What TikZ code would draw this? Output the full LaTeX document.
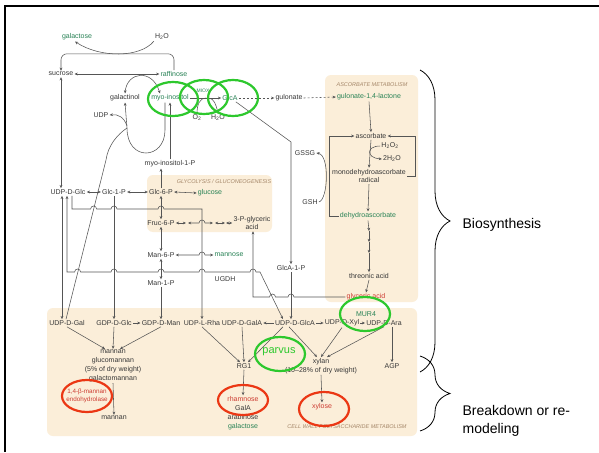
\documentclass[tikz,border=0pt]{standalone}
\usepackage{fontspec}
\setmainfont{Liberation Sans}
\usetikzlibrary{arrows.meta, decorations.pathreplacing, positioning}
\definecolor{boxfill}{RGB}{251,238,217}
\definecolor{metgray}{RGB}{55,55,55}
\definecolor{linegray}{RGB}{85,85,85}
\definecolor{metgreen}{RGB}{40,130,85}
\definecolor{metred}{RGB}{205,60,50}
\definecolor{hdrbrown}{RGB}{165,135,105}
\definecolor{ringgreen}{RGB}{45,200,45}
\definecolor{ringred}{RGB}{235,55,20}

\tikzset{
  met/.style={font=\fontsize{7}{8.8}\selectfont, text=metgray, inner sep=1pt, align=center},
  grn/.style={met, text=metgreen},
  rdm/.style={met, text=metred},
  hdr/.style={font=\fontsize{5.5}{6}\selectfont\itshape, text=hdrbrown},
  wallbox/.style={fill=boxfill, rounded corners=6pt},
  ringg/.style={draw=ringgreen, line width=2.2pt},
  ringr/.style={draw=ringred, line width=2.2pt},
  bigbrace/.style={draw=black, decorate, decoration={brace, amplitude=30pt}, line width=0.8pt},
  sidelabel/.style={text=black, font=\fontsize{14}{18}\selectfont, anchor=west, align=left},
}

\begin{document}
\begin{tikzpicture}[x=1pt, y=-1pt, color=linegray, line width=0.55pt,
    >={Stealth[length=3.2pt,width=2.8pt]}]
  \useasboundingbox (0,0) rectangle (599,452);
  \fill[white] (0,0) rectangle (599,452);

  % shaded areas
  \fill[wallbox] (325,75) rectangle (418,302);
  \fill[wallbox] (147,175) rectangle (272,232);
  \fill[wallbox] (47,308) rectangle (417,436);
  \node[hdr] (aschdr) at (372,85) {ASCORBATE METABOLISM};
  \node[hdr] (glyhdr) at (224,182) {GLYCOLYSIS / GLUCONEOGENESIS};
  \node[hdr] (cwhdr) at (347,427) {CELL WALL POLYSACCHARIDE METABOLISM};

  % top part
  \node[grn] (galactose) at (77,37) {galactose};
  \node[met] (hwtop) at (162,37) {H\textsubscript{2}O};
  \node[met] (sucrose) at (61,74) {sucrose};
  \node[grn] (raffinose) at (174,74) {raffinose};
  \node[met] (galactinol) at (125,98) {galactinol};
  \node[grn] (myoino) at (170,98) {myo-inositol};
  \node[grn, font=\fontsize{5}{6}\selectfont] (miox) at (203,91) {MIOX};
  \node[grn] (glca) at (230,98) {GlcA};
  \node[met] (otwo) at (197,118) {O\textsubscript{2}};
  \node[met] (hwmid) at (218,118) {H\textsubscript{2}O};
  \node[met] (gulonate) at (289,98) {gulonate};
  \node[met] (udp) at (101,115) {UDP};
  \node[met] (myoinop) at (170,164) {myo-inositol-1-P};
  \node[met] (gssg) at (305,153) {GSSG};
  \node[met] (gsh) at (310,202) {GSH};

  % ascorbate
  \node[grn] (lactone) at (369,97) {gulonate-1,4-lactone};
  \node[met] (asc) at (371,136) {ascorbate};
  \node[met] (htwo) at (390,146) {H\textsubscript{2}O\textsubscript{2}};
  \node[met] (twoh) at (392,159) {2H\textsubscript{2}O};
  \node[met] (mda) at (369,176) {monodehydroascorbate\\radical};
  \node[grn] (dha) at (368,216) {dehydroascorbate};
  \node[met] (threo) at (369,276) {threonic acid};
  \node[rdm] (glyc) at (366,297) {glyceric acid};

  % glycolysis
  \node[met] (udpglc) at (68,192) {UDP-D-Glc};
  \node[met] (glconep) at (114,192) {Glc-1-P};
  \node[met] (glcsixp) at (161,192) {Glc-6-P};
  \node[grn] (glucose) at (210,193) {glucose};
  \node[met] (fruc) at (161,223) {Fruc-6-P};
  \node[met] (pga) at (252,223) {3-P-glyceric\\acid};
  \node[met] (mansixp) at (161,255) {Man-6-P};
  \node[grn] (mannose) at (229,255) {mannose};
  \node[met] (manonep) at (161,283) {Man-1-P};
  \node[met] (ugdh) at (225,279) {UGDH};
  \node[met] (glcaonep) at (291,268) {GlcA-1-P};

  % cell wall
  \node[met] (udpgal) at (67,323) {UDP-D-Gal};
  \node[met] (gdpglc) at (114,323) {GDP-D-Glc};
  \node[met] (gdpman) at (161,323) {GDP-D-Man};
  \node[met] (udprha) at (202,323) {UDP-L-Rha};
  \node[met] (udpgala) at (242,323) {UDP-D-GalA};
  \node[met] (udpglca) at (295,323) {UDP-D-GlcA};
  \node[met] (udpxyl) at (342,323) {UDP-D-Xyl};
  \node[met] (udpara) at (384,323) {UDP-D-Ara};
  \node[grn] (mur) at (366,314) {MUR4};
  \node[met] (mannan) at (113,366) {mannan\\glucomannan\\(5\% of dry weight)\\galactomannan};
  \node[rdm, font=\fontsize{6.3}{8}\selectfont] (endo) at (87,396) {1,4-β-mannan\\endohydrolase};
  \node[met] (mannanb) at (114,418) {mannan};
  \node[met] (rgone) at (244,366) {RG1};
  \node[met] (sugars) at (243,413) {\textcolor{metred}{rhamnose}\\GalA\\arabinose\\\textcolor{metgreen}{galactose}};
  \node[met] (xylan) at (321,366) {xylan\\(10--28\% of dry weight)};
  \node[rdm] (xylose) at (322,407) {xylose};
  \node[met] (agp) at (392,366) {AGP};

  % reactions, top
  \draw[->] (hwtop.south west) .. controls (140,58) and (100,58) .. ([xshift=-2pt]galactose.south);
  \draw[->, rounded corners=6pt] (raffinose.north) |- ([yshift=17pt]sucrose.north) -- (sucrose.north);
  \draw[<->] (sucrose.east) -- (raffinose.west);
  \draw[<->] (galactinol.north) .. controls (127,72) and (152,68) .. ([xshift=-10pt]myoino.north);
  \draw[->] ([xshift=-5pt]myoino.south) -- (165,130) .. controls (165,160) and (127,162) .. (127,128) -- (galactinol.south);
  \draw (127,128) .. controls (118,134) and (108,145) .. (106,160) -- ([xshift=-1pt]udpgal.north);
  \draw[->] (127,126) .. controls (124,117) and (118,114) .. (udp.east);
  \draw[->] (myoinop.north) -- (myoino.south);
  \draw[->] (myoino.east) -- (glca.west);
  \draw (otwo.north) .. controls (197,104) and (200,98) .. (206,98);
  \draw[->] (209,98) .. controls (214,99) and (216,104) .. (hwmid.north);
  \draw[->, dash pattern=on 2pt off 2pt] (glca.east) -- (gulonate.west);
  \draw[->, dash pattern=on 2pt off 2pt] (gulonate.east) -- (lactone.west);
  \draw[->] ([xshift=-3pt]glca.south east) -- (291,142) -- (glcaonep.north);
  \draw[->] (gsh.east) .. controls (328,200) and (330,155) .. (gssg.east);

  % reactions, ascorbate
  \draw[->] (lactone.south) -- (asc.north);
  \draw[->] (asc.south) -- (mda.north);
  \draw[->] (mda.south) -- (dha.north);
  \draw[->] (dha.west) -- (329,216) -- (329,136) -- (asc.west);
  \draw[->] (mda.east) -- (415,176) -- (415,136) -- (asc.east);
  \draw[->] (htwo.west) .. controls (366,146) and (366,158) .. (twoh.west);
  \draw[->] (dha.south) -- (369,231);
  \foreach \ya/\yb in {231/242, 242/253} \draw[->] (369,\ya) -- (369,\yb);
  \draw[->] (369,253) -- (threo.north);
  \draw[->] (threo.south) -- (glyc.north);

  % reactions, glycolysis
  \draw[<->] (sucrose.south) -- ([xshift=-7pt]udpglc.north);
  \draw[<->] (udpglc.east) -- (glconep.west);
  \draw[<->] (glconep.east) -- (glcsixp.west);
  \draw[<->] (glcsixp.east) -- (glucose.west);
  \draw[->] (glcsixp.north) -- (glcsixp.north |- myoinop.south);
  \draw[<->] (glcsixp.south) -- (fruc.north);
  \draw[<->] (fruc.south) -- (mansixp.north);
  \draw[<->] (mansixp.south) -- (manonep.north);
  \draw[<->] (fruc.east) -- (186,223);
  \draw[<->] (188,223) -- (199,223) arc[start angle=180, end angle=0, radius=3pt] -- (213,223);
  \draw[<->] (215,223) -- (225,223);
  \draw[<->] (226,223) -- (pga.west);
  \draw[<->] (mansixp.east) -- (199,255) arc[start angle=180, end angle=0, radius=3pt] -- (mannose.west);
  \draw[->] ([xshift=4pt]udpglc.south) -- (72,209) -- (90.6,209) arc[start angle=180, end angle=0, radius=3pt]
    -- (111,209) arc[start angle=180, end angle=0, radius=3pt]
    -- (158,209) arc[start angle=180, end angle=0, radius=3pt]
    -- (202,209) -- (udprha.north);
  \draw[<->] ([xshift=-1pt]udpglc.south) -- (67,272) -- (74.6,272) arc[start angle=180, end angle=0, radius=3pt]
    -- (111,272) arc[start angle=180, end angle=0, radius=3pt]
    -- (158,272) arc[start angle=180, end angle=0, radius=3pt]
    -- (199,272) arc[start angle=180, end angle=0, radius=3pt]
    -- (250,272) arc[start angle=180, end angle=0, radius=3pt]
    -- (260,272) -- ([xshift=-12pt]udpglca.north);
  \draw[<-] ([xshift=1pt]pga.south) -- (253,297) -- (269.5,297) arc[start angle=180, end angle=0, radius=3pt]
    -- (288,297) arc[start angle=180, end angle=0, radius=3pt] -- (glyc.west);
  \draw[<->] ([xshift=-6pt]udpglc.south) -- ([xshift=-5pt]udpgal.north);
  \draw[->] (glconep.south) -- (gdpglc.north);
  \draw[->] (manonep.south) -- (gdpman.north);
  \draw[->] (glcaonep.south) -- ([xshift=-4pt]udpglca.north);

  % reactions, cell wall
  \draw[->] (gdpglc.east) -- (gdpman.west);
  \draw[->] (udpglca.west) -- (udpgala.east);
  \draw[->] (udpglca.east) -- (udpxyl.west);
  \draw[->] (udpxyl.east) -- (udpara.west);
  \draw[->] (udpgal.south) -- ([xshift=-8pt]mannan.north);
  \draw[->] (gdpglc.south) -- (mannan.north);
  \draw[->] (gdpman.south) -- ([xshift=7pt]mannan.north);
  \draw[->] (mannan.south) -- (mannanb.north);
  \draw[->] (udprha.south) -- ([xshift=-4pt]rgone.north);
  \draw[->] (udpgala.south) -- (rgone.north);
  \draw[->] ([xshift=-12pt]udpglca.south) -- ([xshift=4pt]rgone.north);
  \draw[->] (rgone.south) -- (sugars.north);
  \draw[->] ([xshift=-6pt]udpglca.south) -- ([xshift=-4pt]xylan.north);
  \draw[->] (udpxyl.south) -- (xylan.north);
  \draw[->] (udpara.south) -- ([xshift=6pt]xylan.north);
  \draw[->] ([xshift=8pt]udpara.south) -- (agp.north);
  \draw[->] (xylan.south) -- (xylose.north);

  % highlighted genes and products
  \draw[ringg] (173,99) ellipse [x radius=25pt, y radius=17pt];
  \draw[ringg] (204,97) ellipse [x radius=24pt, y radius=17pt];
  \draw[ringg] (233,98) ellipse [x radius=25pt, y radius=18pt];
  \draw[ringg] (365,314) ellipse [x radius=25pt, y radius=17pt];
  \draw[ringg] (280,354) ellipse [x radius=25pt, y radius=17pt];
  \node[text=ringgreen, font=\fontsize{11}{13}\selectfont] (parvus) at (279,352) {parvus};
  \draw[ringr] (87,396) ellipse [x radius=25pt, y radius=16pt];
  \draw[ringr] (243,400) ellipse [x radius=25pt, y radius=15pt];
  \draw[ringr] (324,409) ellipse [x radius=25pt, y radius=17pt];

  % braces
  \draw[bigbrace] (420,70) -- (420,372);
  \draw[bigbrace] (420,356) -- (420,431);
  \node[sidelabel] (biolabel) at (459,225) {Biosynthesis};
  \node[sidelabel] (remlabel) at (459,421) {Breakdown or re-\\modeling};

  % slide frame
  \draw[black, line width=2pt] (5,452) -- (5,6) -- (599,6);
\end{tikzpicture}
\end{document}
